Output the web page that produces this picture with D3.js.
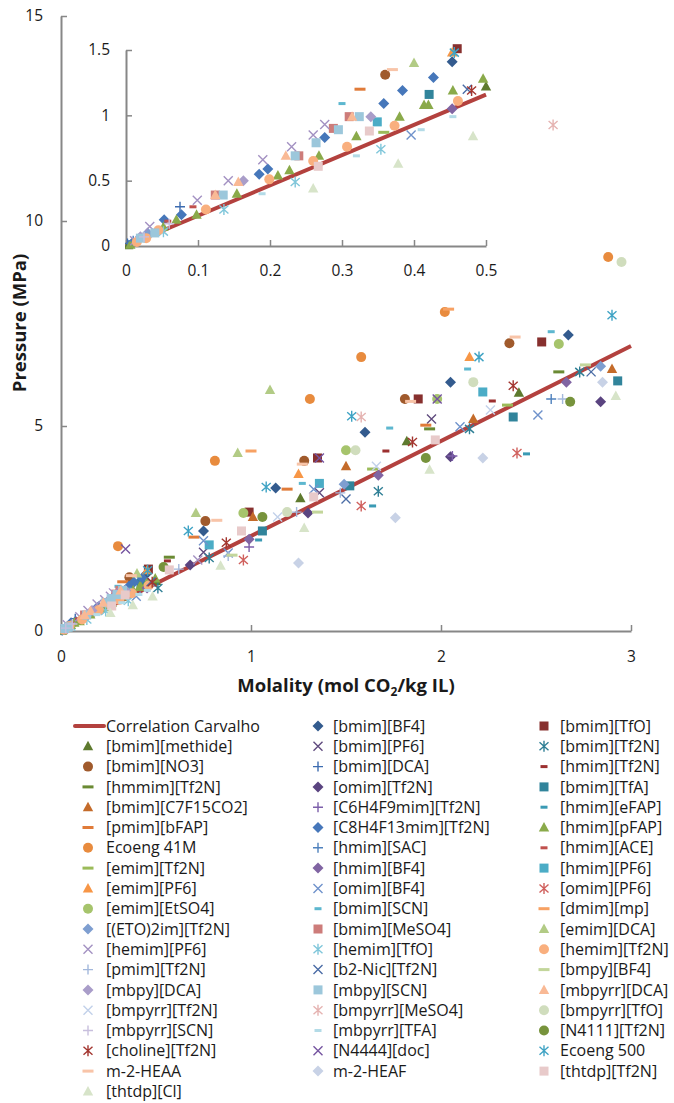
<!DOCTYPE html>
<html>
<head>
<meta charset="utf-8">
<script src="https://cdn.jsdelivr.net/npm/d3@7"></script>
<style>
  body { margin: 0; background: #fff; }
  text { font-family: "Open Sans", Lato, sans-serif; fill: #1a1a1a; }
</style>
</head>
<body>
<svg id="chart" width="674" height="1103"></svg>
<script>
// ---- Data: CO2 solubility (molality, mol CO2/kg IL) vs pressure (MPa) ----
const correlationCarvalho = [[0, 0], [3, 6.95]];

const bmimBF4 = [[0.453, 1.41], [0.75, 2.44], [1.13, 3.49], [1.6, 4.85], [2.05, 6.07], [2.67, 7.22]];
const bmimTfO = [[0.46, 1.51], [0.99, 2.9], [1.35, 4.22], [1.88, 5.66], [2.53, 7.05]];
const bmimMethide = [[0.003, 0.005], [0.5, 1.22], [1.26, 3.24], [1.82, 4.63], [2.41, 5.81]];
const bmimPF6 = [[0.75, 1.92], [1.36, 3.37], [1.95, 5.17]];
const bmimTf2N = [[0.51, 1.05], [0.78, 1.78], [1.67, 3.41], [2.15, 4.93], [2.73, 6.32]];
const bmimNO3 = [[0.36, 1.31], [0.76, 2.68], [1.28, 4.15], [1.81, 5.66], [2.36, 7.02]];
const bmimDCA = [[0.002, 0.02], [0.075, 0.3]];
const hmimTf2N = [[0.56, 1.71], [1.71, 4.39], [2.27, 5.61]];
const hmmimTf2N = [[0.57, 1.8], [1.94, 4.93], [2.62, 6.32]];
const omimTf2N = [[0.68, 1.61], [1.3, 2.88], [2.05, 4.25], [2.84, 5.59]];
const bmimTfA = [[0.421, 1.16], [1.06, 2.44], [1.52, 3.54], [2.38, 5.22], [2.93, 6.1]];
const bmimC7F15CO2 = [[1.01, 2.78], [1.5, 4.02], [2.17, 5.17], [2.9, 6.39]];
const c6h4f9mimTf2N = [[0.99, 2.05], [2.06, 4.27]];
const hmimEFAP = [[1.04, 2.22], [1.64, 3.05], [2.45, 4.32]];
const pmimBFAP = [[0.325, 1.2], [0.7, 2.29], [1.19, 3.46], [1.92, 5.02]];
const c8h4f13mimTf2N = [[0.008, 0.02], [0.053, 0.2], [0.077, 0.24], [0.185, 0.55], [0.197, 0.59], [0.276, 0.83], [0.358, 1.09], [0.384, 1.19], [0.427, 1.29]];
const hmimPFAP = [[0.006, 0.01], [0.052, 0.145], [0.07, 0.2], [0.098, 0.24], [0.154, 0.4], [0.211, 0.54], [0.227, 0.58], [0.268, 0.69], [0.32, 0.84], [0.38, 0.99], [0.414, 1.08], [0.42, 1.08], [0.454, 1.19], [0.496, 1.28]];
const ecoeng41M = [[0.3, 2.07], [0.81, 4.15], [1.31, 5.66], [1.58, 6.68], [2.02, 7.78], [2.88, 9.12]];
const hmimSAC = [[0.01, 0.04], [2.58, 5.66]];
const hmimACE = [[0.058, 0.19], [0.093, 0.3]];
const emimTf2N = [[0.358, 0.87], [1.64, 3.95], [2.35, 5.51]];
const hmimBF4 = [[0.453, 1.05], [0.99, 2.24], [1.67, 3.8], [2.66, 6.07]];
const hmimPF6 = [[0.349, 0.95], [0.78, 2.1], [1.36, 3.6], [2.22, 5.83]];
const emimPF6 = [[0.453, 1.48], [1.25, 3.83], [2.15, 6.68]];
const omimBF4 = [[0.396, 0.85], [0.75, 2.2], [0.88, 1.9], [1.33, 3.46], [2.1, 4.98], [2.51, 5.27]];
const omimPF6 = [[0.96, 1.73], [1.58, 3.05], [2.4, 4.34]];
const emimEtSO4 = [[0.96, 2.88], [1.5, 4.41], [1.98, 5.66], [2.62, 7.0]];
const bmimSCN = [[0.3, 1.09], [1.27, 3.6], [1.73, 4.95], [2.14, 6.39], [2.58, 7.3]];
const dmimMp = [[1.0, 4.39], [2.04, 7.85]];
const eto2imTf2N = [[0.03, 0.1], [1.49, 3.58], [2.84, 6.46]];
const bmimMeSO4 = [[0.124, 0.39], [0.24, 0.69], [0.288, 0.9], [0.31, 0.99]];
const emimDCA = [[0.4, 1.4], [0.71, 2.88], [0.93, 4.34], [1.1, 5.88]];
const hemimPF6 = [[0.012, 0.04], [0.033, 0.15], [0.099, 0.35], [0.142, 0.5], [0.19, 0.66], [0.23, 0.76], [0.26, 0.85], [0.276, 0.93], [0.72, 1.73]];
const hemimTfO = [[0.052, 0.11], [0.136, 0.28], [0.235, 0.49], [0.354, 0.74]];
const hemimTf2N = [[0.015, 0.03], [0.028, 0.06], [0.045, 0.12], [0.111, 0.28], [0.199, 0.51], [0.26, 0.65], [0.307, 0.76], [0.373, 0.92], [0.461, 1.11]];
const pmimTf2N = [[0.62, 1.51], [0.88, 1.83], [1.24, 2.9], [1.47, 3.37], [2.64, 5.66]];
const b2NicTf2N = [[0.474, 1.2], [1.5, 3.22], [2.79, 6.32]];
const bmpyBF4 = [[0.9, 1.85], [1.35, 2.9], [2.76, 6.49]];
const mbpyDCA = [[0.02, 0.07], [0.163, 0.5], [0.34, 0.99]];
const mbpySCN = [[0.02, 0.06], [0.04, 0.1], [0.135, 0.39], [0.235, 0.69], [0.264, 0.79], [0.295, 0.89], [0.324, 0.99]];
const mbpyrrDCA = [[0.124, 0.39], [0.156, 0.49], [0.222, 0.69], [0.314, 0.99]];
const bmpyrrTf2N = [[1.14, 2.78], [1.66, 4.02], [2.26, 5.39]];
const bmpyrrMeSO4 = [[1.58, 5.22], [2.59, 12.34]];
const bmpyrrTfO = [[1.19, 2.9], [1.55, 4.41], [2.17, 6.07], [2.95, 9.0]];
const mbpyrrSCN = [[0.025, 0.07], [0.06, 0.17]];
const mbpyrrTFA = [[0.189, 0.4], [0.32, 0.69], [0.41, 0.89], [0.454, 0.99]];
const n4111Tf2N = [[0.54, 1.56], [1.06, 2.78], [1.92, 4.22], [2.68, 5.59]];
const cholineTf2N = [[0.48, 1.19], [0.87, 2.15], [1.85, 4.61], [2.38, 5.98]];
const n4444Doc = [[0.34, 2.0], [1.36, 4.22], [1.98, 5.66]];
const ecoeng500 = [[0.456, 1.48], [0.67, 2.44], [1.08, 3.51], [1.53, 5.24], [2.2, 6.68], [2.9, 7.7]];
const m2HEAA = [[0.37, 1.35], [0.82, 2.7], [1.27, 4.07], [1.84, 5.6], [2.39, 7.17]];
const m2HEAF = [[1.25, 1.66], [1.76, 2.76], [2.22, 4.22], [2.85, 6.07]];
const thtdpTf2N = [[0.267, 0.61], [0.338, 0.88], [0.57, 1.49], [0.95, 2.44], [1.33, 3.27], [1.97, 4.66]];
const thtdpCl = [[0.26, 0.44], [0.378, 0.63], [0.482, 0.84], [0.84, 1.59], [1.28, 2.51], [1.94, 3.93], [2.92, 5.73]];

// Legend order (row by row, three columns)
const seriesNames = [
  "[bmim][BF4]", "[bmim][TfO]",
  "[bmim][methide]", "[bmim][PF6]", "[bmim][Tf2N]",
  "[bmim][NO3]", "[bmim][DCA]", "[hmim][Tf2N]",
  "[hmmim][Tf2N]", "[omim][Tf2N]", "[bmim][TfA]",
  "[bmim][C7F15CO2]", "[C6H4F9mim][Tf2N]", "[hmim][eFAP]",
  "[pmim][bFAP]", "[C8H4F13mim][Tf2N]", "[hmim][pFAP]",
  "Ecoeng 41M", "[hmim][SAC]", "[hmim][ACE]",
  "[emim][Tf2N]", "[hmim][BF4]", "[hmim][PF6]",
  "[emim][PF6]", "[omim][BF4]", "[omim][PF6]",
  "[emim][EtSO4]", "[bmim][SCN]", "[dmim][mp]",
  "[(ETO)2im][Tf2N]", "[bmim][MeSO4]", "[emim][DCA]",
  "[hemim][PF6]", "[hemim][TfO]", "[hemim][Tf2N]",
  "[pmim][Tf2N]", "[b2-Nic][Tf2N]", "[bmpy][BF4]",
  "[mbpy][DCA]", "[mbpy][SCN]", "[mbpyrr][DCA]",
  "[bmpyrr][Tf2N]", "[bmpyrr][MeSO4]", "[bmpyrr][TfO]",
  "[mbpyrr][SCN]", "[mbpyrr][TFA]", "[N4111][Tf2N]",
  "[choline][Tf2N]", "[N4444][doc]", "Ecoeng 500",
  "m-2-HEAA", "m-2-HEAF", "[thtdp][Tf2N]",
  "[thtdp][Cl]"
];
const seriesValues = [
  bmimBF4, bmimTfO,
  bmimMethide, bmimPF6, bmimTf2N,
  bmimNO3, bmimDCA, hmimTf2N,
  hmmimTf2N, omimTf2N, bmimTfA,
  bmimC7F15CO2, c6h4f9mimTf2N, hmimEFAP,
  pmimBFAP, c8h4f13mimTf2N, hmimPFAP,
  ecoeng41M, hmimSAC, hmimACE,
  emimTf2N, hmimBF4, hmimPF6,
  emimPF6, omimBF4, omimPF6,
  emimEtSO4, bmimSCN, dmimMp,
  eto2imTf2N, bmimMeSO4, emimDCA,
  hemimPF6, hemimTfO, hemimTf2N,
  pmimTf2N, b2NicTf2N, bmpyBF4,
  mbpyDCA, mbpySCN, mbpyrrDCA,
  bmpyrrTf2N, bmpyrrMeSO4, bmpyrrTfO,
  mbpyrrSCN, mbpyrrTFA, n4111Tf2N,
  cholineTf2N, n4444Doc, ecoeng500,
  m2HEAA, m2HEAF, thtdpTf2N,
  thtdpCl
];

// Marker styles, parallel to the series list
const markerShapes = [
  "diamond", "square",
  "triangle", "x", "star",
  "circle", "plus", "dashS",
  "dash", "diamond", "square",
  "triangle", "plus", "dashS",
  "dash", "diamond", "triangle",
  "circle", "plus", "dashS",
  "dash", "diamond", "square",
  "triangle", "x", "star",
  "circle", "dashS", "dash",
  "diamond", "square", "triangle",
  "x", "star", "circle",
  "plus", "x", "dash",
  "diamond", "square", "triangle",
  "x", "star", "circle",
  "plus", "dashS", "circle",
  "star", "x", "star",
  "dash", "diamond", "square",
  "triangle"
];
const markerColors = [
  "#335B8E", "#87302E",
  "#5E7A2E", "#5F4A7E", "#2F7F95",
  "#A05A2C", "#3D6CB0", "#9C3030",
  "#6A8A33", "#5A4480", "#31849B",
  "#C46B2A", "#7D5FAA", "#3A9AB4",
  "#E07B39", "#4677BA", "#8AAA4A",
  "#E88B3E", "#4F81BD", "#C0504D",
  "#9BBB59", "#8064A2", "#4BACC6",
  "#F79646", "#6F92CB", "#D0605D",
  "#A6C46C", "#5DB7CF", "#F7A163",
  "#7E9ED0", "#CD7C7A", "#B2CB85",
  "#A391C2", "#7FC6DA", "#F9AF7E",
  "#A3B8DC", "#4A6CA5", "#C3D69B",
  "#A99DC9", "#9CC7DB", "#F9B995",
  "#C2D1EA", "#E5B3B1", "#D0DDBD",
  "#C8BFDD", "#B3DBE7", "#77933C",
  "#A3352F", "#7554A0", "#3FA3C4",
  "#F8C4A8", "#C8D2E6", "#E8CACA",
  "#D7E4C9"
];

// Axis ticks
const mainXTicks = [0, 1, 2, 3];
const mainYTicks = [0, 5, 10, 15];
const insetXTicks = [0, 0.1, 0.2, 0.3, 0.4, 0.5];
const insetYTicks = [0, 0.5, 1, 1.5];

// ---- Drawing ----
const svg = d3.select("#chart");
const axisColor = "#878787";
const lineColor = "#B3413E";

function marker(g, shape, color, cx, cy) {
  const s = g.append("g").attr("transform", `translate(${cx},${cy})`);
  switch (shape) {
    case "diamond":
      s.append("path").attr("d", "M0,-5.5L5.5,0L0,5.5L-5.5,0Z").attr("fill", color); break;
    case "square":
      s.append("rect").attr("x", -4.5).attr("y", -4.5).attr("width", 9).attr("height", 9).attr("fill", color); break;
    case "triangle":
      s.append("path").attr("d", "M0,-5.5L5.2,4L-5.2,4Z").attr("fill", color); break;
    case "circle":
      s.append("circle").attr("r", 5).attr("fill", color); break;
    case "x":
      s.append("path").attr("d", "M-4.5,-4.5L4.5,4.5M-4.5,4.5L4.5,-4.5")
        .attr("stroke", color).attr("stroke-width", 1.4).attr("fill", "none"); break;
    case "star":
      s.append("path").attr("d", "M-4.5,-4L4.5,4M-4.5,4L4.5,-4M0,-5.5L0,5.5")
        .attr("stroke", color).attr("stroke-width", 1.4).attr("fill", "none"); break;
    case "plus":
      s.append("path").attr("d", "M-5,0L5,0M0,-5L0,5")
        .attr("stroke", color).attr("stroke-width", 1.4).attr("fill", "none"); break;
    case "dash":
      s.append("rect").attr("x", -5.5).attr("y", -1.5).attr("width", 11).attr("height", 3).attr("fill", color); break;
    case "dashS":
      s.append("rect").attr("x", -3.5).attr("y", -1.5).attr("width", 7).attr("height", 3).attr("fill", color); break;
  }
}

function panel(xScale, yScale, xTicks, yTicks, xFmt, yFmt, xPad, yPad, id) {
  const [x0, x1] = xScale.domain();
  const [y0, y1] = yScale.domain();
  const g = svg.append("g");

  svg.append("clipPath").attr("id", id).append("rect")
    .attr("x", xScale(x0) - 1).attr("y", yScale(y1) - 6)
    .attr("width", xScale(x1) - xScale(x0) + 8).attr("height", yScale(y0) - yScale(y1) + 12);

  // axes
  const xAxis = d3.axisBottom(xScale).tickValues(xTicks).tickFormat(xFmt)
    .tickSizeInner(-6).tickSizeOuter(0).tickPadding(xPad);
  const yAxis = d3.axisLeft(yScale).tickValues(yTicks).tickFormat(yFmt)
    .tickSizeInner(-6).tickSizeOuter(0).tickPadding(yPad);
  const gx = g.append("g").attr("transform", `translate(0,${yScale(y0)})`).call(xAxis);
  const gy = g.append("g").attr("transform", `translate(${xScale(x0)},0)`).call(yAxis);
  [gx, gy].forEach(a => {
    a.select(".domain").attr("stroke", axisColor).attr("stroke-width", 2);
    a.selectAll(".tick line").attr("stroke", axisColor).attr("stroke-width", 1.5);
    a.selectAll(".tick text").attr("font-size", 15.5).attr("fill", "#1a1a1a")
      .style("font-family", "'Open Sans', sans-serif");
  });

  const plot = g.append("g").attr("clip-path", `url(#${id})`);
  // correlation line
  const line = d3.line().x(d => xScale(d[0])).y(d => yScale(d[1]));
  const lx = d3.scaleLinear().domain(correlationCarvalho.map(d => d[0])).range(correlationCarvalho.map(d => d[1]));
  const seg = [[0, lx(0)], [x1, lx(x1)]];
  plot.append("path").attr("d", line(seg)).attr("stroke", lineColor)
    .attr("stroke-width", 4).attr("fill", "none");

  // markers
  seriesValues.forEach((pts, i) => {
    pts.filter(d => d[0] <= x1 * 1.01 && d[1] <= y1 * 1.01).forEach(d => {
      marker(plot, markerShapes[i], markerColors[i], xScale(d[0]), yScale(d[1]));
    });
  });
}

// main chart
const xMain = d3.scaleLinear().domain([0, 3]).range([61, 631]);
const yMain = d3.scaleLinear().domain([0, 15]).range([631, 16]);
panel(xMain, yMain, mainXTicks, mainYTicks, d3.format("d"), d3.format("d"), 20, 18, "clipMain");

// inset
const xIn = d3.scaleLinear().domain([0, 0.5]).range([126, 486]);
const yIn = d3.scaleLinear().domain([0, 1.5]).range([246, 50]);
panel(xIn, yIn, insetXTicks, insetYTicks, d => d === 0 ? "0" : d3.format(".1f")(d),
  d => String(d), 19, 16, "clipInset");

// axis titles
svg.append("text").attr("transform", "translate(26,323) rotate(-90)")
  .attr("text-anchor", "middle").attr("font-size", 18.5).attr("font-weight", "bold")
  .text("Pressure (MPa)");
const xt = svg.append("text").attr("x", 346).attr("y", 692)
  .attr("text-anchor", "middle").attr("font-size", 18.5).attr("font-weight", "bold");
xt.append("tspan").text("Molality (mol CO");
xt.append("tspan").attr("font-size", 12).attr("dy", 4).text("2");
xt.append("tspan").attr("dy", -4).text("/kg IL)");

// legend
const legendEntries = ["Correlation Carvalho"].concat(seriesNames);
const colMarkerX = [88, 318, 544];
const colTextX = [106, 333, 560];
const rowY0 = 726, rowStep = 20.3;
const legend = svg.append("g");
legendEntries.forEach((name, k) => {
  const col = k % 3, row = Math.floor(k / 3);
  const y = rowY0 + row * rowStep;
  if (k === 0) {
    legend.append("line").attr("x1", 75).attr("x2", 104).attr("y1", y).attr("y2", y)
      .attr("stroke", lineColor).attr("stroke-width", 4).attr("stroke-linecap", "round");
  } else {
    marker(legend, markerShapes[k - 1], markerColors[k - 1], colMarkerX[col], y);
  }
  legend.append("text").attr("x", colTextX[col]).attr("y", y).attr("dy", "0.35em")
    .attr("font-size", 16).text(name);
});
</script>
</body>
</html>
